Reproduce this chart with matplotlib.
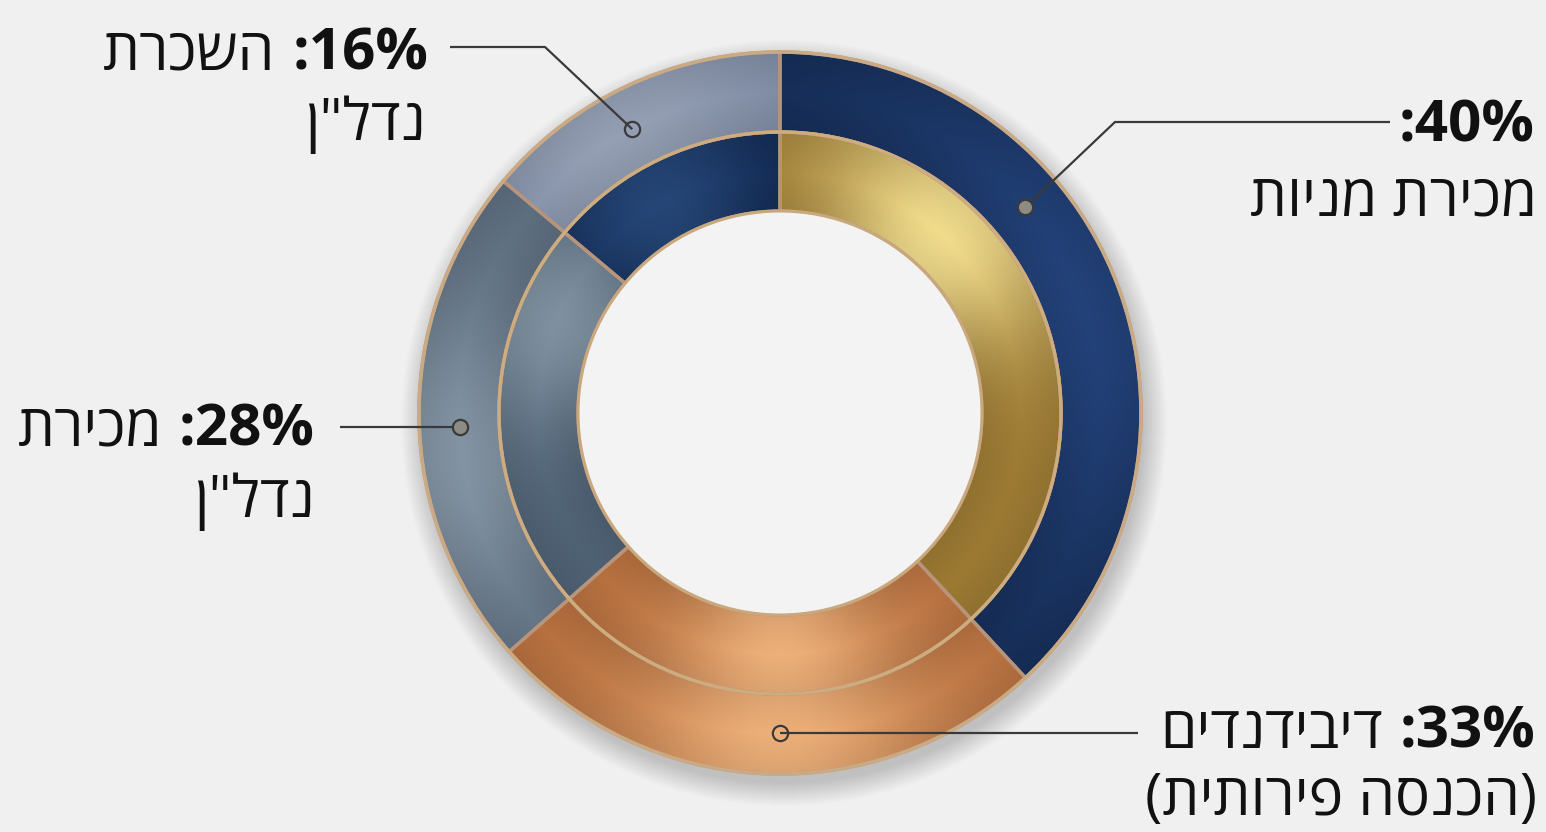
import numpy as np
import matplotlib
matplotlib.use("Agg")
import matplotlib.pyplot as plt
from matplotlib.patches import Circle
from matplotlib.colors import to_rgb

# ---------------- data ----------------
categories = ['מכירת מניות', 'דיבידנדים (הכנסה פירותית)', 'מכירת נדל"ן', 'השכרת נדל"ן']
label_pct = [40, 33, 28, 16]
ring_share = [38.1, 25.4, 22.6, 13.9]          # angular share of each segment
line1_text = ['', 'דיבידנדים', 'מכירת', 'השכרת']
line2_text = ['מכירת מניות', '(הכנסה פירותית)', 'נדל"ן', 'נדל"ן']

# ---------------- style ----------------
outer_colors = [("#142b53", "#23427a", 70, 50),    # navy
                ("#b56e3d", "#eeb07a", 180, 26),   # copper
                ("#5b6c7d", "#8394a4", 262, 28),   # slate
                ("#76849d", "#95a0b5", 330, 28)]   # light blue-grey
inner_colors = [("#9c7a33", "#f1dc8c", 42, 30),    # gold
                ("#b56e3d", "#eeb07a", 180, 26),   # copper
                ("#4f6274", "#7f91a1", 292, 26),   # slate
                ("#10264f", "#254677", 330, 24)]   # navy
EDGE = "#b8957a"
FAM = ["Open Sans", "Liberation Sans", "DejaVu Sans"]
FS = 42

W, H = 1546, 832
CX, CY = 780, H - 413
R_OUT, R_MID, R_IN = 361, 281, 202


def Y(y):
    return H - y


def visual(s):
    """Hebrew logical order -> left-to-right visual order (with mirrored parentheses)."""
    t = s[::-1]
    return t.translate(str.maketrans("()", ")("))


fig = plt.figure(figsize=(W / 100, H / 100), dpi=100)
fig.patch.set_facecolor("#f0f0f0")
ax = fig.add_axes([0, 0, 1, 1])
ax.set_facecolor("#f0f0f0")

# soft drop shadow
for k in range(24):
    ax.add_patch(Circle((CX + 4, CY - 10), R_OUT + 22 - k, facecolor="#000000",
                        edgecolor="none", alpha=0.0065, zorder=0))

wedge_kw = dict(edgecolor=EDGE, linewidth=2.4)
outer, _ = ax.pie(ring_share, radius=R_OUT, center=(CX, CY), startangle=90,
                  counterclock=False, wedgeprops=dict(width=R_OUT - R_MID, **wedge_kw))
inner, _ = ax.pie(ring_share, radius=R_MID, center=(CX, CY), startangle=90,
                  counterclock=False, wedgeprops=dict(width=R_MID - R_IN, **wedge_kw))

N = 600
xs = np.linspace(CX - R_OUT - 2, CX + R_OUT + 2, N)
ys = np.linspace(CY - R_OUT - 2, CY + R_OUT + 2, N)
X, Yg = np.meshgrid(xs, ys)
TH = np.degrees(np.arctan2(X - CX, Yg - CY)) % 360
RR = np.hypot(X - CX, Yg - CY)


def metal(wedge, spec, r0, r1):
    dark, light, hl, wd = spec
    dark = np.array(to_rgb(dark)); light = np.array(to_rgb(light))
    d = (TH - hl + 180) % 360 - 180
    t = np.exp(-(d / wd) ** 2)
    rr = np.clip((RR - r0) / (r1 - r0), 0, 1)
    shade = 1 - 0.08 * np.abs(rr - 0.5) * 2
    c = dark[None, None, :] + (light - dark)[None, None, :] * t[..., None]
    c = np.clip(c * shade[..., None], 0, 1)
    im = ax.imshow(c, extent=(xs[0], xs[-1], ys[0], ys[-1]), origin="lower",
                   interpolation="bilinear", zorder=2)
    im.set_clip_path(wedge)
    wedge.set_facecolor("none")
    wedge.set_zorder(3)


for w, spec in zip(outer, outer_colors):
    metal(w, spec, R_MID, R_OUT)
for w, spec in zip(inner, inner_colors):
    metal(w, spec, R_IN, R_MID)

# rims
ax.add_patch(Circle((CX, CY), R_OUT, facecolor="none", edgecolor="#c9aa84", lw=2.6, zorder=4))
ax.add_patch(Circle((CX, CY), R_MID, facecolor="none", edgecolor="#cdac80", lw=2.4, zorder=4))
ax.add_patch(Circle((CX, CY), R_IN, facecolor="#f3f3f3", edgecolor="#c9a87e", lw=2.2, zorder=4))

# leader lines and markers (elbow points in picture pixels; None = same height as marker)
marker_angle = [50, 180, 267.5, 332.5]
marker_r = 320
elbows = [[(1115, 122), (1390, 122)],
          [(1138, None)],
          [(340, None)],
          [(545, 47), (450, 47)]]
marker_face = ["#8c8b84", "none", "#8c8b84", "none"]
for ang, pts, fc in zip(marker_angle, elbows, marker_face):
    a = np.radians(ang)
    mx, my = CX + marker_r * np.sin(a), CY + marker_r * np.cos(a)
    px = [mx] + [p[0] for p in pts]
    py = [my] + [my if p[1] is None else Y(p[1]) for p in pts]
    ax.plot(px, py, color="#3a3a3a", lw=1.6, zorder=5, solid_capstyle="butt")
    ax.plot([mx], [my], marker="o", ms=11, mfc=fc, mec="#3a3a3a", mew=1.6, zorder=6)

# labels (right edge x, baseline y of line 1, right edge x, baseline y of line 2)
label_pos = [(1535, 142, 1537, 215),
             (1535, 748, 1537, 815),
             (315, 445, 315, 517),
             (428, 70, 426, 140)]
for pct, l1, l2, (x1, y1, x2, y2) in zip(label_pct, line1_text, line2_text, label_pos):
    b = ax.text(x1, Y(y1), f":{pct}%", fontsize=FS, fontweight="bold", ha="right",
                va="baseline", family=FAM, color="#111111", zorder=7)
    if l1:
        ax.annotate(visual(l1), xy=(0, 0), xycoords=b, xytext=(-12, 0),
                    textcoords="offset points", ha="right", va="bottom",
                    fontsize=FS, family=FAM, color="#111111", zorder=7)
    ax.text(x2, Y(y2), visual(l2), fontsize=FS, ha="right", va="baseline",
            family=FAM, color="#111111", zorder=7)

ax.set_xlim(0, W)
ax.set_ylim(0, H)
ax.set_aspect("equal")
ax.axis("off")
fig.savefig("out.png", dpi=100, facecolor=fig.get_facecolor())
